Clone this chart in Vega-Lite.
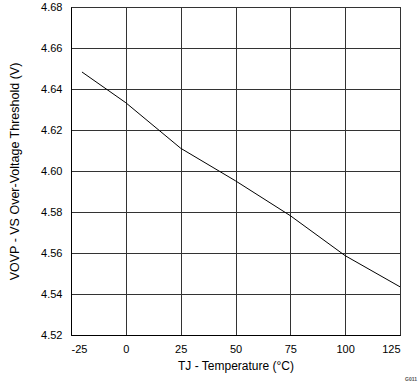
{
  "$schema": "https://vega.github.io/schema/vega-lite/v6.json",
  "width": 329,
  "height": 328,
  "autosize": {"type": "none"},
  "padding": {"left": 71, "top": 7, "right": 19, "bottom": 47},
  "background": "white",
  "title": {
    "text": "G011",
    "orient": "bottom",
    "anchor": "end",
    "fontSize": 5,
    "font": "Liberation Sans",
    "fontWeight": "bold",
    "color": "#555555",
    "dx": 15,
    "offset": 6
  },
  "config": {
    "view": {"stroke": "black", "strokeWidth": 1},
    "font": "Liberation Sans",
    "axis": {
      "labelFont": "Liberation Sans",
      "titleFont": "Liberation Sans",
      "labelFontSize": 11,
      "titleFontSize": 12,
      "titleFontWeight": "normal",
      "labelColor": "black",
      "titleColor": "black",
      "domainColor": "black",
      "gridColor": "#333333",
      "gridOpacity": 1,
      "gridWidth": 1,
      "ticks": false
    }
  },
  "data": {
    "values": [
      {"t": -20, "v": 4.6483},
      {"t": 0, "v": 4.6333},
      {"t": 25, "v": 4.6111},
      {"t": 50, "v": 4.5952},
      {"t": 75, "v": 4.5782},
      {"t": 100, "v": 4.5587},
      {"t": 125, "v": 4.5435}
    ]
  },
  "mark": {"type": "line", "color": "black", "strokeWidth": 1},
  "encoding": {
    "x": {
      "field": "t",
      "type": "quantitative",
      "scale": {"domain": [-25, 125], "nice": false},
      "axis": {
        "values": [-25, 0, 25, 50, 75, 100, 125],
        "labelExpr": "datum.value < 0 ? '-' + abs(datum.value) : datum.label",
        "labelPadding": 8,
        "title": "TJ - Temperature (°C)",
        "titleFontSize": 12,
        "titlePadding": 6
      }
    },
    "y": {
      "field": "v",
      "type": "quantitative",
      "scale": {"domain": [4.52, 4.68], "nice": false, "zero": false},
      "axis": {
        "values": [4.52, 4.54, 4.56, 4.58, 4.6, 4.62, 4.64, 4.66, 4.68],
        "format": ".2f",
        "labelPadding": 9,
        "title": "VOVP - VS Over-Voltage Threshold (V)",
        "titleFontSize": 12.5,
        "titlePadding": 19
      }
    }
  }
}
